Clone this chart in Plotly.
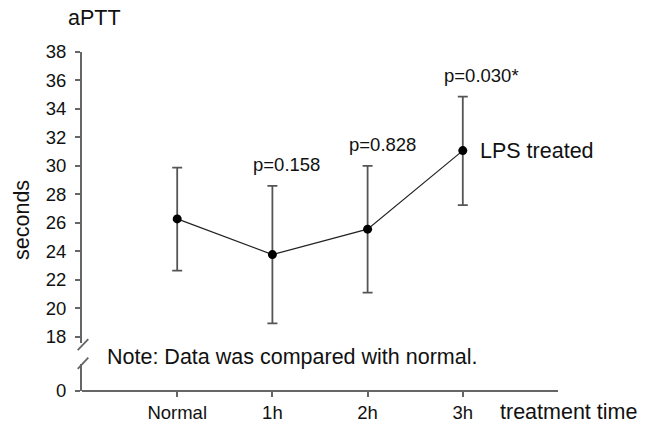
import plotly.graph_objects as go

# ---- data ----
categories = ["Normal", "1h", "2h", "3h"]
means = [26.27, 23.76, 25.55, 31.07]
err_upper = [29.87, 28.59, 29.99, 34.86]
err_lower = [22.64, 18.93, 21.09, 27.24]
p_labels = [None, "p=0.158", "p=0.828", "p=0.030*"]
y_ticks = [18, 20, 22, 24, 26, 28, 30, 32, 34, 36, 38]

plus = [u - m for u, m in zip(err_upper, means)]
minus = [m - l for m, l in zip(means, err_lower)]

FONT = "Liberation Sans, Arial, sans-serif"
TXT = "#111111"
AX = "#666666"
TICK_SIZE = 18.5
BIG = 21.5

fig = go.Figure()
fig.add_trace(go.Scatter(
    x=categories, y=means, mode="lines+markers",
    line=dict(color="#222222", width=1.2),
    marker=dict(color="black", size=9),
    error_y=dict(type="data", symmetric=False, array=plus, arrayminus=minus,
                 color="#555555", thickness=1.8, width=5),
    xaxis="x", yaxis="y", showlegend=False, hoverinfo="skip",
))
# invisible trace so the lower (broken) axis segment is drawn
fig.add_trace(go.Scatter(x=[categories[0]], y=[0], mode="markers",
                         marker=dict(opacity=0), xaxis="x", yaxis="y2",
                         showlegend=False, hoverinfo="skip"))

fig.update_layout(
    width=650, height=435,
    margin=dict(l=82, r=92, t=52, b=41),
    paper_bgcolor="white", plot_bgcolor="white",
    font=dict(family=FONT, color=TXT, size=TICK_SIZE),
    xaxis=dict(type="category", categoryorder="array", categoryarray=categories,
               range=[-1, 4], showgrid=False, zeroline=False,
               showline=True, linecolor=AX, linewidth=2,
               ticks="outside", ticklen=5, tickcolor=AX, tickwidth=1.5,
               tickfont=dict(size=TICK_SIZE, color=TXT, family=FONT),
               anchor="free", position=0),
    yaxis=dict(domain=[0.1417, 1.0], range=[17.55, 38], tickvals=y_ticks,
               showgrid=False, zeroline=False, showline=True, linecolor=AX,
               linewidth=2, ticks="outside", ticklen=5, tickcolor=AX, tickwidth=1.5,
               tickfont=dict(size=TICK_SIZE, color=TXT, family=FONT),
               ticklabelstandoff=5, anchor="x"),
    yaxis2=dict(domain=[0, 0.079], range=[0, 1], tickvals=[0],
                showgrid=False, zeroline=False, showline=True, linecolor=AX,
                linewidth=2, ticks="outside", ticklen=5, tickcolor=AX, tickwidth=1.5,
                tickfont=dict(size=TICK_SIZE, color=TXT, family=FONT),
                ticklabelstandoff=5, anchor="x"),
)

ann = []
for c, lab, top in zip(categories, p_labels, err_upper):
    if lab:
        ann.append(dict(x=c, y=top, xref="x", yref="y", text=lab, showarrow=False,
                        xanchor="left", yanchor="middle", xshift=-21, yshift=21,
                        font=dict(size=TICK_SIZE, color=TXT, family=FONT)))
ann.append(dict(x=categories[-1], y=means[-1], xref="x", yref="y", text="LPS treated",
                showarrow=False, xanchor="left", yanchor="middle", xshift=15,
                font=dict(size=BIG, color=TXT, family=FONT)))
ann.append(dict(x=-0.034, y=1.099, xref="paper", yref="paper", text="aPTT",
                showarrow=False, xanchor="left", yanchor="middle",
                font=dict(size=BIG, color=TXT, family=FONT)))
ann.append(dict(x=-0.125, y=0.503, xref="paper", yref="paper", text="seconds",
                showarrow=False, textangle=-90, xanchor="center", yanchor="middle",
                font=dict(size=BIG, color=TXT, family=FONT)))
ann.append(dict(x=0.049, y=0.0994, xref="paper", yref="paper",
                text="Note: Data was compared with normal.",
                showarrow=False, xanchor="left", yanchor="middle",
                font=dict(size=BIG, color=TXT, family=FONT)))
ann.append(dict(x=0.874, y=-0.0614, xref="paper", yref="paper", text="treatment time",
                showarrow=False, xanchor="left", yanchor="middle",
                font=dict(size=BIG, color=TXT, family=FONT)))
fig.update_layout(annotations=ann)

# axis-break slashes
fig.add_shape(type="line", xref="paper", yref="paper", x0=-0.009, y0=0.1208,
              x1=0.0132, y1=0.1529, line=dict(color=AX, width=1.8))
fig.add_shape(type="line", xref="paper", yref="paper", x0=-0.009, y0=0.0652,
              x1=0.0132, y1=0.0985, line=dict(color=AX, width=1.8))

fig.write_html("out.html", config={"displayModeBar": False})
